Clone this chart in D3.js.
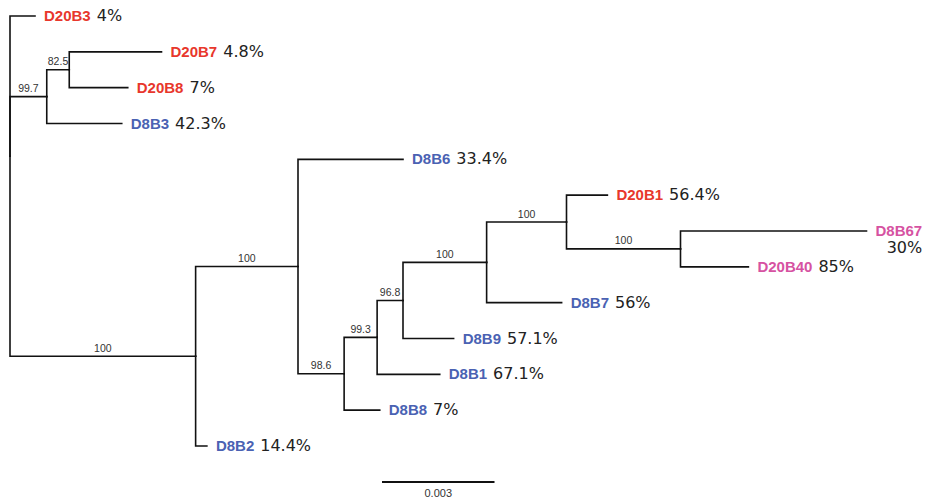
<!DOCTYPE html>
<html>
<head>
<meta charset="utf-8">
<script src="https://cdn.jsdelivr.net/npm/d3@7"></script>
<style>
  html, body { margin: 0; padding: 0; background: #fff; }
  svg { display: block; }
</style>
</head>
<body>
<svg id="chart" width="928" height="499"></svg>
<script>
// ---- data ----
const nodeIds   = ["root","D20B3","A","C","D20B7","D20B8","D8B3","B","D","D8B6","E","F","G","H","I","D20B1","J","D8B67","D20B40","D8B7","D8B9","D8B1","D8B8","D8B2"];
const parentIds = ["",    "root", "root","A","C",  "C",    "A",   "root","B","D",  "D","E","F","G","H","I",    "I","J",    "J",     "H",   "G",   "F",   "E",   "B"];
const branchLengths = [0, 0.000667, 0.00098, 0.0006, 0.00246, 0.00156, 0.002, 0.00495, 0.00273, 0.0028, 0.00123, 0.00088, 0.00069, 0.00223, 0.00213, 0.00109, 0.00304, 0.00496, 0.00181, 0.002, 0.00135, 0.00167, 0.00095, 0.0003];
const bootstrap = [null, null, "99.7", "82.5", null, null, null, "100", "100", null, "98.6", "99.3", "96.8", "100", "100", null, "100", null, null, null, null, null, null, null];

const leafNames  = ["D20B3","D20B7","D20B8","D8B3","D8B6","D20B1","D8B67","D20B40","D8B7","D8B9","D8B1","D8B8","D8B2"];
const leafFreqs  = ["4%","4.8%","7%","42.3%","33.4%","56.4%","30%","85%","56%","57.1%","67.1%","7%","14.4%"];
const leafGroups = ["D20","D20","D20","D8","D8","D20","mixed","mixed","D8","D8","D8","D8","D8"];

const groupNames  = ["D20","D8","mixed"];
const groupColors = ["#e8372c","#4a62b3","#d652a2"];

const scaleBarValue = 0.003;
const scaleBarLabel = "0.003";

// ---- build ----
const rows = nodeIds.map((id, i) => ({ id, parentId: parentIds[i] || null, len: branchLengths[i], support: bootstrap[i] }));
const root = d3.stratify().id(d => d.id).parentId(d => d.parentId)(rows);

d3.cluster().size([1, 1]).separation(() => 1)(root);

root.each(n => { n.depth2 = n.parent ? n.parent.depth2 + n.data.len : 0; });

const leaves = root.leaves();
const yScale = d3.scaleLinear()
  .domain(d3.extent(leaves, d => d.x))
  .range([16, 446]);
const xScale = d3.scaleLinear().domain([0, 0.003]).range([10, 122.5]);

root.each(n => { n.px = xScale(n.depth2); n.py = yScale(n.x); });

const color = d3.scaleOrdinal().domain(groupNames).range(groupColors);

const svg = d3.select("#chart");

// branches
svg.append("g")
  .attr("fill", "none")
  .attr("stroke", "#111")
  .attr("stroke-width", 1.6)
  .attr("stroke-linecap", "square")
  .selectAll("path")
  .data(root.descendants().filter(d => d.parent))
  .join("path")
  .attr("d", d => `M${d.parent.px},${d.parent.py}V${d.py}H${d.px}`);

// support values
svg.append("g")
  .attr("font-family", "'Liberation Sans', Arial, sans-serif")
  .attr("font-size", "10.5px")
  .attr("fill", "#333")
  .attr("text-anchor", "middle")
  .selectAll("text")
  .data(root.descendants().filter(d => d.parent && d.data.support))
  .join("text")
  .attr("x", d => (d.parent.px + d.px) / 2)
  .attr("y", d => d.py - 4.5)
  .text(d => d.data.support);

// leaf labels
const lab = svg.append("g").selectAll("g")
  .data(leaves)
  .join("g");

lab.each(function(d) {
  const i = leafNames.indexOf(d.id);
  const g = d3.select(this);
  const name = g.append("text")
    .attr("x", d.px + 9)
    .attr("y", d.py + 5)
    .attr("font-family", "'Liberation Sans', Arial, sans-serif")
    .attr("font-weight", "bold")
    .attr("font-size", "15px")
    .attr("fill", color(leafGroups[i]))
    .text(d.id);
  const w = name.node().getComputedTextLength();
  const wrap = d.px + 9 + w + 60 > 928;
  const pct = g.append("text")
    .attr("font-family", "'DejaVu Sans', Verdana, sans-serif")
    .attr("font-size", "16px")
    .attr("fill", "#222")
    .text(leafFreqs[i]);
  if (wrap) {
    pct.attr("x", d.px + 9 + w).attr("y", d.py + 22).attr("text-anchor", "end");
  } else {
    pct.attr("x", d.px + 9 + w + 6).attr("y", d.py + 5);
  }
});

// scale bar
const sbX = 382;
const sbW = xScale(scaleBarValue) - xScale(0);
svg.append("line")
  .attr("x1", sbX).attr("x2", sbX + sbW)
  .attr("y1", 482).attr("y2", 482)
  .attr("stroke", "#111").attr("stroke-width", 2);
svg.append("text")
  .attr("x", sbX + sbW / 2)
  .attr("y", 497)
  .attr("text-anchor", "middle")
  .attr("font-family", "'Liberation Sans', Arial, sans-serif")
  .attr("font-size", "11px")
  .attr("fill", "#333")
  .text(scaleBarLabel);
</script>
</body>
</html>
